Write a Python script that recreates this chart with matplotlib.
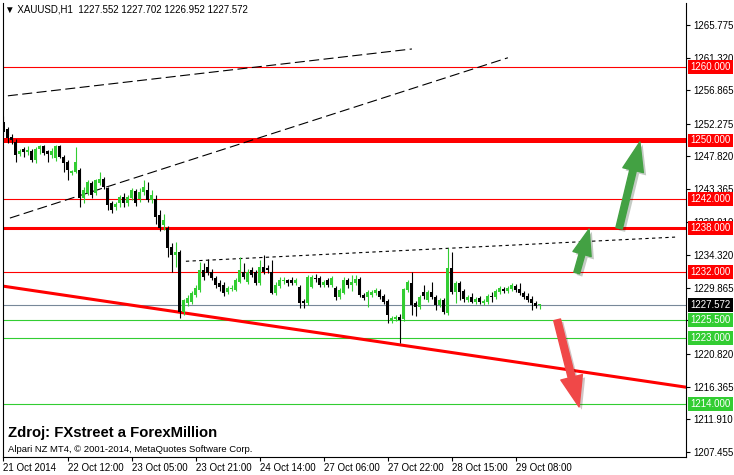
import matplotlib
matplotlib.use("Agg")
import matplotlib.pyplot as plt
import matplotlib.patheffects as pe
from matplotlib.patches import FancyArrowPatch
import numpy as np

plt.rcParams["font.family"] = ["Liberation Sans", "DejaVu Sans"]

# XAUUSD H1 candles
opens = [1252.5, 1251.6, 1250.5, 1249.8, 1248.2, 1248.9, 1248.4, 1248.5, 1247.3, 1248.9,
         1249.2, 1248.5, 1248.0, 1247.6, 1249.2, 1247.8, 1247.0, 1245.6, 1245.7, 1246.0,
         1242.2, 1242.8, 1244.2, 1242.8, 1244.2, 1244.8, 1243.5, 1241.4, 1240.9, 1241.4,
         1242.3, 1241.5, 1242.1, 1243.1, 1242.0, 1242.9, 1243.3, 1241.9, 1242.0, 1239.8,
         1238.5, 1238.0, 1235.5, 1234.4, 1234.8, 1226.6, 1227.8, 1227.9, 1228.9, 1229.6,
         1232.3, 1232.7, 1232.0, 1231.2, 1230.5, 1230.3, 1229.3, 1229.7, 1229.6, 1230.7,
         1232.0, 1230.7, 1232.3, 1232.0, 1230.5, 1232.7, 1232.6, 1232.0, 1229.2, 1230.1,
         1230.8, 1230.9, 1231.0, 1230.5, 1230.0, 1228.1, 1227.8, 1230.0, 1231.2, 1231.2,
         1230.3, 1230.9, 1230.3, 1229.8, 1228.6, 1229.2, 1230.9, 1230.3, 1230.5, 1231.1,
         1228.9, 1228.6, 1228.9, 1229.2, 1229.4, 1228.8, 1228.1, 1225.3, 1225.6, 1225.9,
         1225.6, 1229.6, 1230.5, 1227.8, 1227.3, 1229.3, 1228.2, 1229.3, 1228.6, 1227.5,
         1228.2, 1226.4, 1232.6, 1229.3, 1230.5, 1229.4, 1228.2, 1228.6, 1227.9, 1228.5,
         1227.8, 1227.9, 1228.8, 1228.6, 1229.3, 1229.7, 1229.4, 1229.7, 1230.1, 1229.7,
         1229.2, 1228.8, 1228.3, 1227.8, 1227.552]
highs = [1253.3, 1251.8, 1250.9, 1250.2, 1248.8, 1249.1, 1249.3, 1248.9, 1249.1, 1249.4,
         1249.4, 1248.7, 1249.0, 1249.4, 1249.4, 1248.0, 1247.4, 1246.0, 1249.1, 1246.3,
         1243.6, 1244.6, 1244.4, 1244.8, 1245.7, 1245.0, 1243.7, 1241.7, 1241.6, 1242.6,
         1242.8, 1242.6, 1243.5, 1243.4, 1243.5, 1244.6, 1244.3, 1243.2, 1242.5, 1240.5,
         1240.0, 1238.3, 1236.0, 1236.1, 1235.0, 1228.4, 1228.9, 1229.5, 1230.3, 1233.4,
         1233.3, 1233.8, 1232.5, 1231.5, 1230.9, 1230.6, 1230.1, 1230.2, 1231.2, 1234.1,
         1233.3, 1232.4, 1232.7, 1232.3, 1233.7, 1234.3, 1233.0, 1233.7, 1230.6, 1231.3,
         1231.3, 1231.1, 1231.3, 1231.2, 1230.3, 1228.4, 1231.6, 1231.6, 1231.7, 1231.5,
         1230.9, 1231.2, 1231.5, 1230.1, 1229.9, 1231.3, 1231.2, 1231.6, 1231.6, 1231.4,
         1229.2, 1229.6, 1229.6, 1229.9, 1229.7, 1229.0, 1228.3, 1226.0, 1226.2, 1226.3,
         1229.9, 1231.0, 1232.0, 1228.1, 1228.9, 1230.3, 1229.6, 1230.7, 1228.9, 1228.5,
         1228.5, 1235.3, 1234.8, 1230.8, 1230.8, 1229.7, 1228.9, 1229.2, 1228.6, 1228.8,
         1228.3, 1229.0, 1229.3, 1229.7, 1230.1, 1230.0, 1230.1, 1230.5, 1230.4, 1230.5,
         1229.4, 1229.1, 1228.7, 1228.1, 1227.702]
lows = [1250.6, 1249.6, 1249.5, 1247.1, 1247.9, 1247.8, 1248.0, 1247.1, 1246.9, 1248.1,
        1248.0, 1247.1, 1247.6, 1247.2, 1247.6, 1245.7, 1244.6, 1245.3, 1245.5, 1240.9,
        1241.5, 1242.5, 1242.1, 1242.5, 1243.9, 1243.4, 1240.5, 1240.1, 1240.5, 1240.9,
        1240.9, 1241.0, 1241.8, 1241.0, 1241.6, 1242.6, 1241.6, 1241.5, 1238.6, 1237.6,
        1237.8, 1234.1, 1232.1, 1232.7, 1225.8, 1226.2, 1227.4, 1227.7, 1228.6, 1229.3,
        1231.0, 1231.6, 1230.9, 1229.8, 1229.5, 1228.8, 1229.0, 1229.5, 1229.4, 1230.5,
        1231.1, 1230.4, 1231.3, 1230.3, 1230.2, 1231.7, 1231.9, 1229.0, 1228.9, 1229.8,
        1230.4, 1230.1, 1230.2, 1230.2, 1227.1, 1227.1, 1227.5, 1229.8, 1230.6, 1230.0,
        1230.0, 1230.0, 1230.0, 1228.2, 1228.3, 1229.0, 1229.9, 1229.4, 1230.2, 1228.6,
        1228.2, 1227.3, 1228.6, 1228.9, 1228.3, 1227.6, 1225.1, 1225.0, 1225.3, 1222.3,
        1225.3, 1229.3, 1226.2, 1226.0, 1227.0, 1228.3, 1227.9, 1228.3, 1226.8, 1227.2,
        1226.3, 1226.1, 1229.0, 1227.8, 1228.2, 1228.0, 1227.9, 1227.8, 1227.7, 1227.7,
        1227.5, 1227.7, 1227.9, 1228.3, 1229.0, 1229.1, 1229.2, 1229.5, 1229.3, 1228.9,
        1228.3, 1227.9, 1226.8, 1227.1, 1226.952]
closes = [1251.2, 1250.4, 1250.0, 1248.0, 1248.5, 1248.4, 1248.7, 1247.4, 1248.9, 1249.2,
          1248.3, 1248.1, 1248.6, 1249.2, 1247.8, 1246.9, 1246.0, 1245.8, 1247.1, 1242.1,
          1243.3, 1244.3, 1242.5, 1244.6, 1244.8, 1243.6, 1241.2, 1240.5, 1241.3, 1242.3,
          1241.4, 1242.3, 1243.3, 1241.4, 1243.0, 1243.7, 1241.9, 1242.6, 1239.5, 1238.0,
          1239.1, 1235.3, 1234.4, 1234.8, 1226.6, 1228.2, 1228.5, 1229.2, 1229.9, 1232.3,
          1231.4, 1231.9, 1231.2, 1230.3, 1230.0, 1229.2, 1229.8, 1229.9, 1230.9, 1232.3,
          1231.4, 1232.0, 1231.6, 1230.5, 1232.7, 1232.0, 1232.3, 1229.2, 1230.3, 1230.9,
          1230.9, 1230.5, 1230.5, 1230.9, 1227.8, 1227.8, 1231.3, 1231.3, 1231.1, 1230.3,
          1230.6, 1230.3, 1231.2, 1228.6, 1229.6, 1230.9, 1230.3, 1230.7, 1231.1, 1228.9,
          1228.5, 1229.3, 1229.3, 1229.6, 1228.6, 1227.9, 1226.2, 1225.8, 1225.9, 1225.5,
          1229.7, 1230.7, 1227.5, 1227.3, 1228.6, 1228.7, 1229.3, 1228.6, 1227.5, 1228.2,
          1226.6, 1232.6, 1229.3, 1230.5, 1229.3, 1228.3, 1228.6, 1227.9, 1228.3, 1227.9,
          1228.1, 1228.8, 1228.6, 1229.4, 1229.8, 1229.4, 1229.8, 1230.3, 1229.6, 1229.2,
          1228.6, 1228.2, 1227.8, 1227.4, 1227.572]

time_labels = ["21 Oct 2014", "22 Oct 12:00", "23 Oct 05:00", "23 Oct 21:00", "24 Oct 14:00",
               "27 Oct 06:00", "27 Oct 22:00", "28 Oct 15:00", "29 Oct 08:00"]
time_label_bars = [0, 16, 32, 48, 64, 80, 96, 112, 128]

price_ticks = [1265.775, 1261.320, 1256.865, 1252.275, 1247.820, 1243.365, 1238.910,
               1234.320, 1229.865, 1225.410, 1220.820, 1216.365, 1211.910, 1207.455]

red_levels = [1260.0, 1250.0, 1242.0, 1238.0, 1232.0]
green_levels = [1225.5, 1223.0, 1214.0]
last_price = 1227.572

# drawn objects (bar index, price)
support_x = [-0.1, 170.6]
support_y = [1230.1, 1216.3]
top_dash_x = [1.1, 102.1]
top_dash_y = [1256.1, 1262.5]
channel_x = [1.6, 126.1]
channel_y = [1239.4, 1261.3]
resist_x = [45.6, 167.9]
resist_y = [1233.5, 1236.8]

up_arrow1 = [(143.3, 1231.9), (146.4, 1237.9)]
up_arrow2 = [(153.9, 1238.0), (159.1, 1249.8)]
down_arrow = [(138.4, 1225.5), (143.9, 1213.6)]

W, H = 734, 475
fig = plt.figure(figsize=(W / 100, H / 100), dpi=100)
ax = fig.add_axes([3 / W, 18 / H, 683 / W, 454 / H])
ax.set_xlim(-0.125, 170.625)
ax.set_ylim(1206.76, 1268.78)

ax.spines["top"].set_visible(False)
for s in ["left", "right", "bottom"]:
    ax.spines[s].set_linewidth(0.8)

# levels
thick = {1250.0: 3.6, 1238.0: 2.2}
for lv in red_levels:
    ax.axhline(lv, color="#ff0000", lw=thick.get(lv, 0.8), zorder=1)
for lv in green_levels:
    ax.axhline(lv, color="#32cd32", lw=0.8, zorder=1)
ax.axhline(last_price, color="#778899", lw=0.8, zorder=1)

ax.plot(support_x, support_y, color="#ff0000", lw=2.2, zorder=1)
ax.plot(top_dash_x, top_dash_y, color="black", lw=0.8, dashes=(9, 4), zorder=1)
ax.plot(channel_x, channel_y, color="black", lw=0.8, dashes=(9, 4), zorder=1)
ax.plot(resist_x, resist_y, color="black", lw=0.8, dashes=(3, 3), zorder=1)

# candles
o = np.array(opens)
c = np.array(closes)
x = np.arange(len(o))
up = c >= o
cols = np.where(up, "#32cd32", "black")
ax.vlines(x, lows, highs, colors=cols, lw=0.8, zorder=2)
body = np.maximum(np.abs(c - o), 0.12)
ax.bar(x, body, bottom=np.minimum(o, c), width=0.75, color=cols, lw=0, zorder=3)

# arrows
shadow = [pe.SimplePatchShadow(offset=(2, -2), alpha=0.25), pe.Normal()]
for (tail, tip), col, ms in [(up_arrow1, "#43a143", 17), (up_arrow2, "#43a143", 19),
                             (down_arrow, "#f04848", 20)]:
    ar = FancyArrowPatch(tail, tip, arrowstyle="simple,head_length=1.1,head_width=0.8,tail_width=0.25",
                         mutation_scale=ms, color=col, shrinkA=0, shrinkB=0, zorder=4,
                         path_effects=shadow)
    ax.add_patch(ar)

# axes ticks
ax.yaxis.tick_right()
ax.set_yticks(price_ticks)
ax.set_yticklabels([f"{t:.3f}" for t in price_ticks])
ax.tick_params(axis="y", length=3, width=0.8, pad=2, labelsize=7)
ax.set_xticks(time_label_bars)
ax.set_xticklabels(time_labels)
ax.tick_params(axis="x", length=3, width=0.8, pad=1, labelsize=7)
for lab in ax.get_xticklabels():
    lab.set_ha("left")

# price boxes on the right
yt = ax.get_yaxis_transform()
boxes = [(lv, "#ff0000") for lv in red_levels] + [(lv, "#32cd32") for lv in green_levels] \
    + [(last_price, "black")]
for lv, col in boxes:
    ax.text(1.0065, lv, f"{lv:.3f}", transform=yt, ha="left", va="center", color="white",
            fontsize=7, clip_on=False, zorder=6,
            bbox=dict(boxstyle="square,pad=0.2", fc=col, ec="none"))

fig.text(5 / W, 1 - 10 / H, "\u25bc XAUUSD,H1  1227.552 1227.702 1226.952 1227.572",
         fontsize=7, va="center", ha="left")
fig.text(8 / W, 1 - 433 / H, "Zdroj: FXstreet a ForexMillion", fontsize=10.7,
         fontweight="bold", va="center", ha="left")
fig.text(8 / W, 1 - 450 / H, "Alpari NZ MT4, \u00a9 2001-2014, MetaQuotes Software Corp.",
         fontsize=6.8, va="center", ha="left")

fig.savefig("out.png", dpi=100)
